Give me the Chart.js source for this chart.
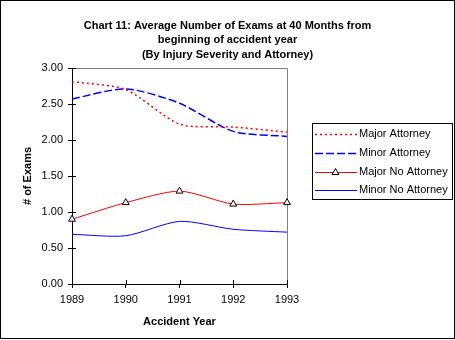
<!DOCTYPE html>
<html>
<head>
<meta charset="utf-8">
<script src="https://cdn.jsdelivr.net/npm/chart.js@4.4.1/dist/chart.umd.min.js"></script>
<style>
  html, body { margin: 0; padding: 0; background: #fff; }
  #wrap { width: 455px; height: 340px; position: relative; }
</style>
</head>
<body>
<div id="wrap"><canvas id="c" width="455" height="340"></canvas></div>
<script>
const titleLines = [
  "Chart 11: Average Number of Exams at 40 Months from",
  "beginning of accident year",
  "(By Injury Severity and Attorney)"
];
const xTitle = "Accident Year";
const yTitle = "# of Exams";
const years = ["1989", "1990", "1991", "1992", "1993"];
const seriesNames = ["Major Attorney", "Minor Attorney", "Major No Attorney", "Minor No Attorney"];
const majorAttorney = [2.81, 2.70, 2.22, 2.18, 2.11];
const minorAttorney = [2.57, 2.71, 2.51, 2.12, 2.05];
const majorNoAttorney = [0.90, 1.13, 1.29, 1.11, 1.13];
const minorNoAttorney = [0.69, 0.67, 0.87, 0.76, 0.72];
const yMin = 0, yMax = 3, yStep = 0.5;

const FONT = "'Liberation Sans', Arial, sans-serif";

const decorPlugin = {
  id: 'decor',
  beforeDatasetsDraw(chart) {
    const ctx = chart.ctx, a = chart.chartArea;
    ctx.save();
    ctx.strokeStyle = '#808080';
    ctx.lineWidth = 1;
    ctx.beginPath();
    ctx.moveTo(Math.round(a.left) + 0.5, Math.round(a.top) + 0.5);
    ctx.lineTo(Math.round(a.right) + 0.5, Math.round(a.top) + 0.5);
    ctx.lineTo(Math.round(a.right) + 0.5, Math.round(a.bottom) + 0.5);
    ctx.stroke();
    ctx.strokeStyle = '#000';
    const xs = chart.scales.x, ys = chart.scales.y;
    ctx.beginPath();
    ys.ticks.forEach((t) => {
      const py = Math.round(ys.getPixelForValue(t.value)) + 0.5;
      ctx.moveTo(Math.round(a.left), py);
      ctx.lineTo(Math.round(a.left) + 4, py);
    });
    xs.ticks.forEach((t, i) => {
      const px = Math.round(xs.getPixelForTick(i)) + 0.5;
      ctx.moveTo(px, Math.round(a.bottom));
      ctx.lineTo(px, Math.round(a.bottom) - 4);
    });
    ctx.stroke();
    ctx.restore();
  },
  afterDraw(chart) {
    const ctx = chart.ctx;
    ctx.save();
    ctx.fillStyle = '#000';
    ctx.font = "bold 11px " + FONT;
    ctx.textAlign = 'center';
    ctx.textBaseline = 'middle';
    const tys = [25.5, 40, 54.5];
    titleLines.forEach((l, i) => ctx.fillText(l, 227.5, tys[i]));
    ctx.strokeStyle = '#000';
    ctx.lineWidth = 1;
    ctx.strokeRect(312.5, 123.5, 140, 76);
    ctx.font = "11px " + FONT;
    ctx.textAlign = 'left';
    const lys = [134, 152.5, 171.5, 190];
    chart.data.datasets.forEach((ds, i) => {
      const y = Math.round(lys[i]) + 0.5;
      ctx.save();
      ctx.strokeStyle = ds.borderColor;
      ctx.lineWidth = ds.borderWidth;
      ctx.setLineDash(ds.borderDash || []);
      ctx.beginPath();
      ctx.moveTo(315, y);
      ctx.lineTo(357, y);
      ctx.stroke();
      ctx.restore();
      if (ds.pointRadius > 0) {
        const r = ds.pointRadius, cx = 335.5, cy = y;
        ctx.save();
        ctx.beginPath();
        ctx.moveTo(cx, cy - r);
        ctx.lineTo(cx + 0.866 * r, cy + 0.5 * r);
        ctx.lineTo(cx - 0.866 * r, cy + 0.5 * r);
        ctx.closePath();
        ctx.fillStyle = ds.pointBackgroundColor;
        ctx.fill();
        ctx.strokeStyle = ds.pointBorderColor;
        ctx.lineWidth = 1;
        ctx.stroke();
        ctx.restore();
      }
      ctx.fillStyle = '#000';
      ctx.fillText(ds.label, 359, lys[i]);
    });
    ctx.strokeStyle = '#000';
    ctx.lineWidth = 1;
    ctx.strokeRect(0.5, 0.5, 454, 338);
    ctx.restore();
  }
};

new Chart(document.getElementById('c'), {
  type: 'line',
  data: {
    labels: years,
    datasets: [
      { label: seriesNames[0], data: majorAttorney, borderColor: '#ff0000', borderWidth: 1.5,
        borderDash: [2, 3], pointRadius: 0, tension: 0.25, fill: false },
      { label: seriesNames[1], data: minorAttorney, borderColor: '#0000ff', borderWidth: 1.5,
        borderDash: [8, 3], pointRadius: 0, tension: 0.25, fill: false },
      { label: seriesNames[2], data: majorNoAttorney, borderColor: '#ff0000', borderWidth: 1,
        pointStyle: 'triangle', pointRadius: 4, pointBackgroundColor: '#ffffff',
        pointBorderColor: '#000000', pointBorderWidth: 1, tension: 0.25, fill: false },
      { label: seriesNames[3], data: minorNoAttorney, borderColor: '#0000ff', borderWidth: 1,
        pointRadius: 0, tension: 0.25, fill: false }
    ]
  },
  options: {
    responsive: false,
    animation: false,
    events: [],
    layout: { padding: { left: 0, top: 68, right: 168, bottom: 0 } },
    plugins: { legend: { display: false }, title: { display: false }, tooltip: { enabled: false } },
    scales: {
      x: {
        offset: false,
        grid: { display: true, drawOnChartArea: false, drawTicks: true, tickLength: 4, color: '#000', lineWidth: 1 },
        border: { display: true, color: '#000', width: 1 },
        ticks: { color: '#000', font: { family: FONT, size: 11 }, padding: 5, maxRotation: 0, autoSkip: false },
        title: { display: true, text: xTitle, color: '#000', font: { family: FONT, size: 11, weight: 'bold' }, padding: { top: 0, bottom: 11 } },
        afterFit: (s) => { s.height = 56; }
      },
      y: {
        min: yMin, max: yMax,
        grid: { display: true, drawOnChartArea: false, drawTicks: true, tickLength: 4, color: '#000', lineWidth: 1 },
        border: { display: true, color: '#000', width: 1 },
        ticks: { stepSize: yStep, color: '#000', font: { family: FONT, size: 11 }, padding: 5,
          callback: (v) => Number(v).toFixed(2) },
        title: { display: true, text: yTitle, color: '#000', font: { family: FONT, size: 11, weight: 'bold' }, padding: { top: 21, bottom: 0 } },
        afterFit: (s) => { s.width = 72; }
      }
    }
  },
  plugins: [decorPlugin]
});
</script>
</body>
</html>
